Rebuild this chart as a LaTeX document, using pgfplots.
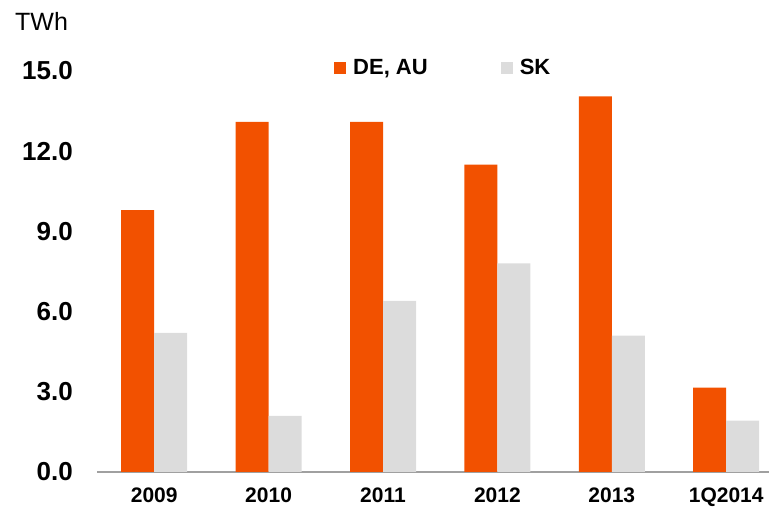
\documentclass[border=0pt]{standalone}
\usepackage{pgfplots}
\pgfplotsset{compat=1.18}
\usepackage{fontspec}
\setmainfont{Liberation Sans}
\definecolor{deau}{RGB}{242,81,0}
\definecolor{sk}{RGB}{220,220,220}
\definecolor{axisgray}{RGB}{160,160,160}
\begin{document}
\begin{tikzpicture}[x=1pt,y=1pt]
\useasboundingbox (0,0) rectangle (769,508);
\node[anchor=base west, inner sep=0pt, font=\fontsize{25}{25}\selectfont] at (15,477) {TWh};
\begin{axis}[
  at={(97pt,36pt)}, anchor=south west,
  scale only axis, width=672pt, height=401pt,
  ymin=0, ymax=15, xmin=-0.5, xmax=5.374,
  enlargelimits=false,
  ybar=0pt, bar width=33pt,
  axis x line*=bottom, axis y line*=left,
  y axis line style={draw=none},
  x axis line style={draw=axisgray, line width=2pt, -},
  xtick style={draw=none}, ytick style={draw=none},
  ytick={0,3,6,9,12,15},
  xtick={0,1,2,3,4,5},
  xticklabels={2009,2010,2011,2012,2013,1Q2014},
  /pgf/number format/assume math mode=true,
  yticklabel style={/pgf/number format/.cd, fixed, fixed zerofill, precision=1, /tikz/.cd,
    anchor=east, inner sep=0pt, xshift=-24pt, font=\fontsize{26}{26}\selectfont\bfseries},
  xticklabel style={anchor=base, inner sep=0pt, yshift=-26pt, font=\fontsize{21}{21}\selectfont\bfseries},
  legend columns=2,
  legend image code/.code={\fill[#1] (0pt,-6pt) rectangle (12pt,6pt);},
  legend style={at={(0.3527,1.0075)}, anchor=west, draw=none, fill=none, inner sep=0pt,
    nodes={inner sep=0pt}, font=\fontsize{22}{22}\selectfont\bfseries,
    /tikz/every odd column/.append style={column sep=7pt},
    /tikz/every even column/.append style={column sep=73pt}},
]
\addplot[draw=none, fill=deau] coordinates {(0,9.8) (1,13.1) (2,13.1) (3,11.5) (4,14.05) (5,3.16)};
\addplot[draw=none, fill=sk] coordinates {(0,5.2) (1,2.1) (2,6.4) (3,7.8) (4,5.1) (5,1.92)};
\legend{DE{,} AU, SK}
\end{axis}
\end{tikzpicture}
\end{document}
